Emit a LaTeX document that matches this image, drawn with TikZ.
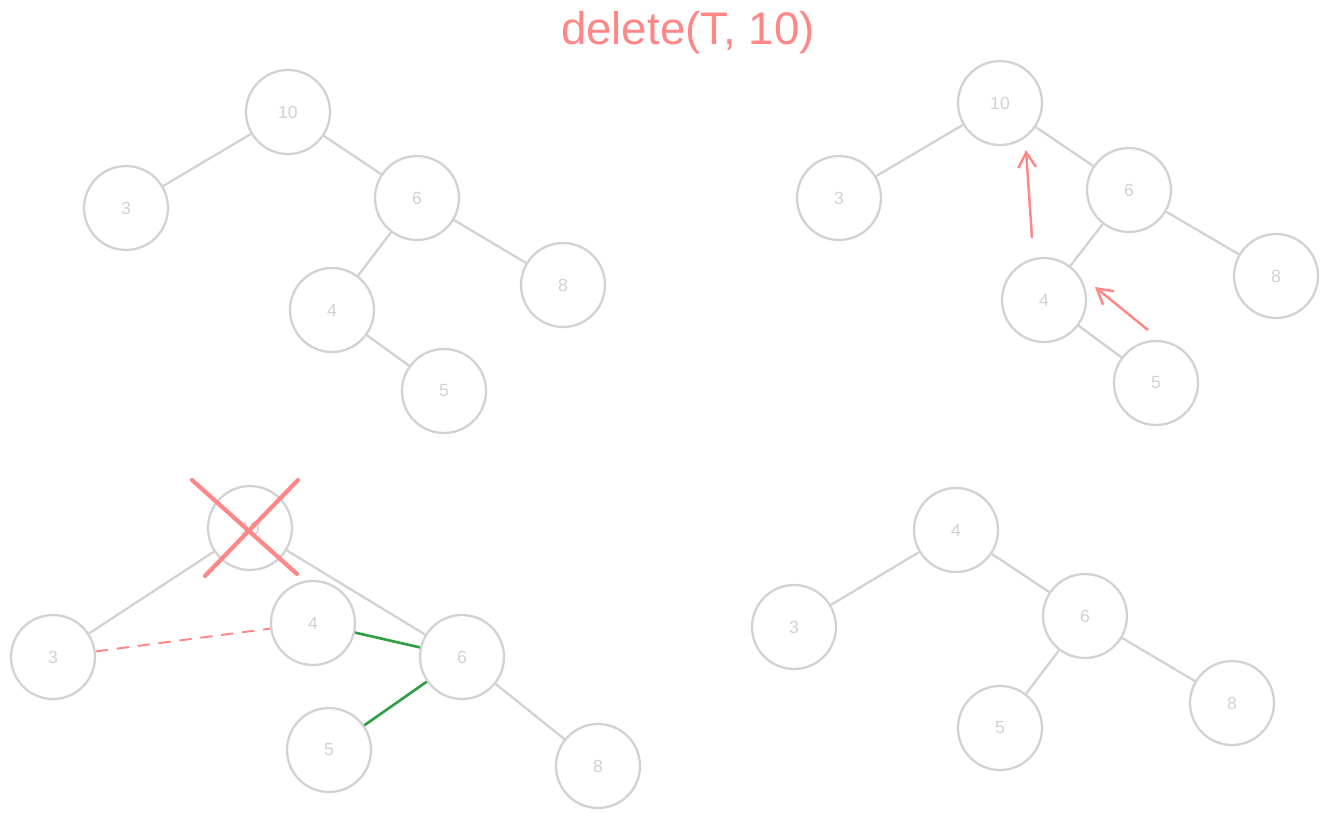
\documentclass[tikz,border=0pt]{standalone}
\usepackage{fontspec}
\setmainfont{Liberation Sans}
\definecolor{treegray}{RGB}{210, 210, 210}
\definecolor{markred}{RGB}{255, 135, 135}
\definecolor{linkgreen}{RGB}{47, 158, 68}
\usetikzlibrary{arrows.meta, calc}
\tikzset{
    keynode/.style={circle, draw=treegray, line width=1.3pt, fill=white,
                    minimum size=1.68cm, inner sep=0pt, text=treegray,
                    font=\fontsize{10}{12}\selectfont},
    edge/.style={treegray, line width=1.3pt},
    newedge/.style={linkgreen, line width=1.5pt},
    oldedge/.style={markred, line width=1.1pt, dashed, dash pattern=on 7pt off 5pt},
    movearrow/.style={-{Straight Barb[length=3mm, width=3.5mm]}, markred, line width=1.4pt},
    cross/.style={markred, line width=2.4pt, line cap=round},
}

\begin{document}
\begin{tikzpicture}[x=0.02cm, y=-0.02cm]
    \useasboundingbox (0, 0) rectangle (1329, 818);
    \node[text=markred, font=\fontsize{26}{30}\selectfont] (title) at (688, 33) {delete(T, 10)};

    % before
    \node[keynode] (a10) at (288, 112) {10};
    \node[keynode] (a3) at (126, 208) {3};
    \node[keynode] (a6) at (417, 198) {6};
    \node[keynode] (a4) at (332, 310) {4};
    \node[keynode] (a8) at (563, 285) {8};
    \node[keynode] (a5) at (444, 391) {5};
    \draw[edge] (a10) -- (a3);
    \draw[edge] (a10) -- (a6);
    \draw[edge] (a6) -- (a4);
    \draw[edge] (a6) -- (a8);
    \draw[edge] (a4) -- (a5);

    % find the successor
    \node[keynode] (b10) at (1000, 103) {10};
    \node[keynode] (b3) at (839, 198) {3};
    \node[keynode] (b6) at (1129, 190) {6};
    \node[keynode] (b4) at (1044, 300) {4};
    \node[keynode] (b8) at (1276, 276) {8};
    \node[keynode] (b5) at (1156, 383) {5};
    \draw[edge] (b10) -- (b3);
    \draw[edge] (b10) -- (b6);
    \draw[edge] (b6) -- (b4);
    \draw[edge] (b6) -- (b8);
    \draw[edge] (b4) -- (b5);
    \coordinate (upfrom) at (1032, 238);
    \coordinate (upto) at (1026, 150);
    \coordinate (sidefrom) at (1148, 330);
    \coordinate (sideto) at (1095, 287);
    \draw[movearrow] (upfrom) -- (upto);
    \draw[movearrow] (sidefrom) -- (sideto);

    % relink
    \node[keynode] (c10) at (250, 528) {10};
    \node[keynode] (c3) at (53, 657) {3};
    \node[keynode] (c4) at (313, 623) {4};
    \node[keynode] (c6) at (462, 657) {6};
    \node[keynode] (c5) at (329, 750) {5};
    \node[keynode] (c8) at (598, 766) {8};
    \draw[edge] (c10) -- (c3);
    \draw[edge] (c10) -- (c6);
    \draw[edge] (c6) -- (c8);
    \draw[oldedge] (c3) -- (c4);
    \draw[newedge] (c4) -- (c6);
    \draw[newedge] (c6) -- (c5);
    \draw[cross] ($(c10)+(-58, -48)$) -- ($(c10)+(47, 46)$);
    \draw[cross] ($(c10)+(48, -48)$) -- ($(c10)+(-45, 48)$);

    % after
    \node[keynode] (d4) at (956, 530) {4};
    \node[keynode] (d3) at (794, 627) {3};
    \node[keynode] (d6) at (1085, 616) {6};
    \node[keynode] (d5) at (1000, 728) {5};
    \node[keynode] (d8) at (1232, 703) {8};
    \draw[edge] (d4) -- (d3);
    \draw[edge] (d4) -- (d6);
    \draw[edge] (d6) -- (d5);
    \draw[edge] (d6) -- (d8);
\end{tikzpicture}
\end{document}
